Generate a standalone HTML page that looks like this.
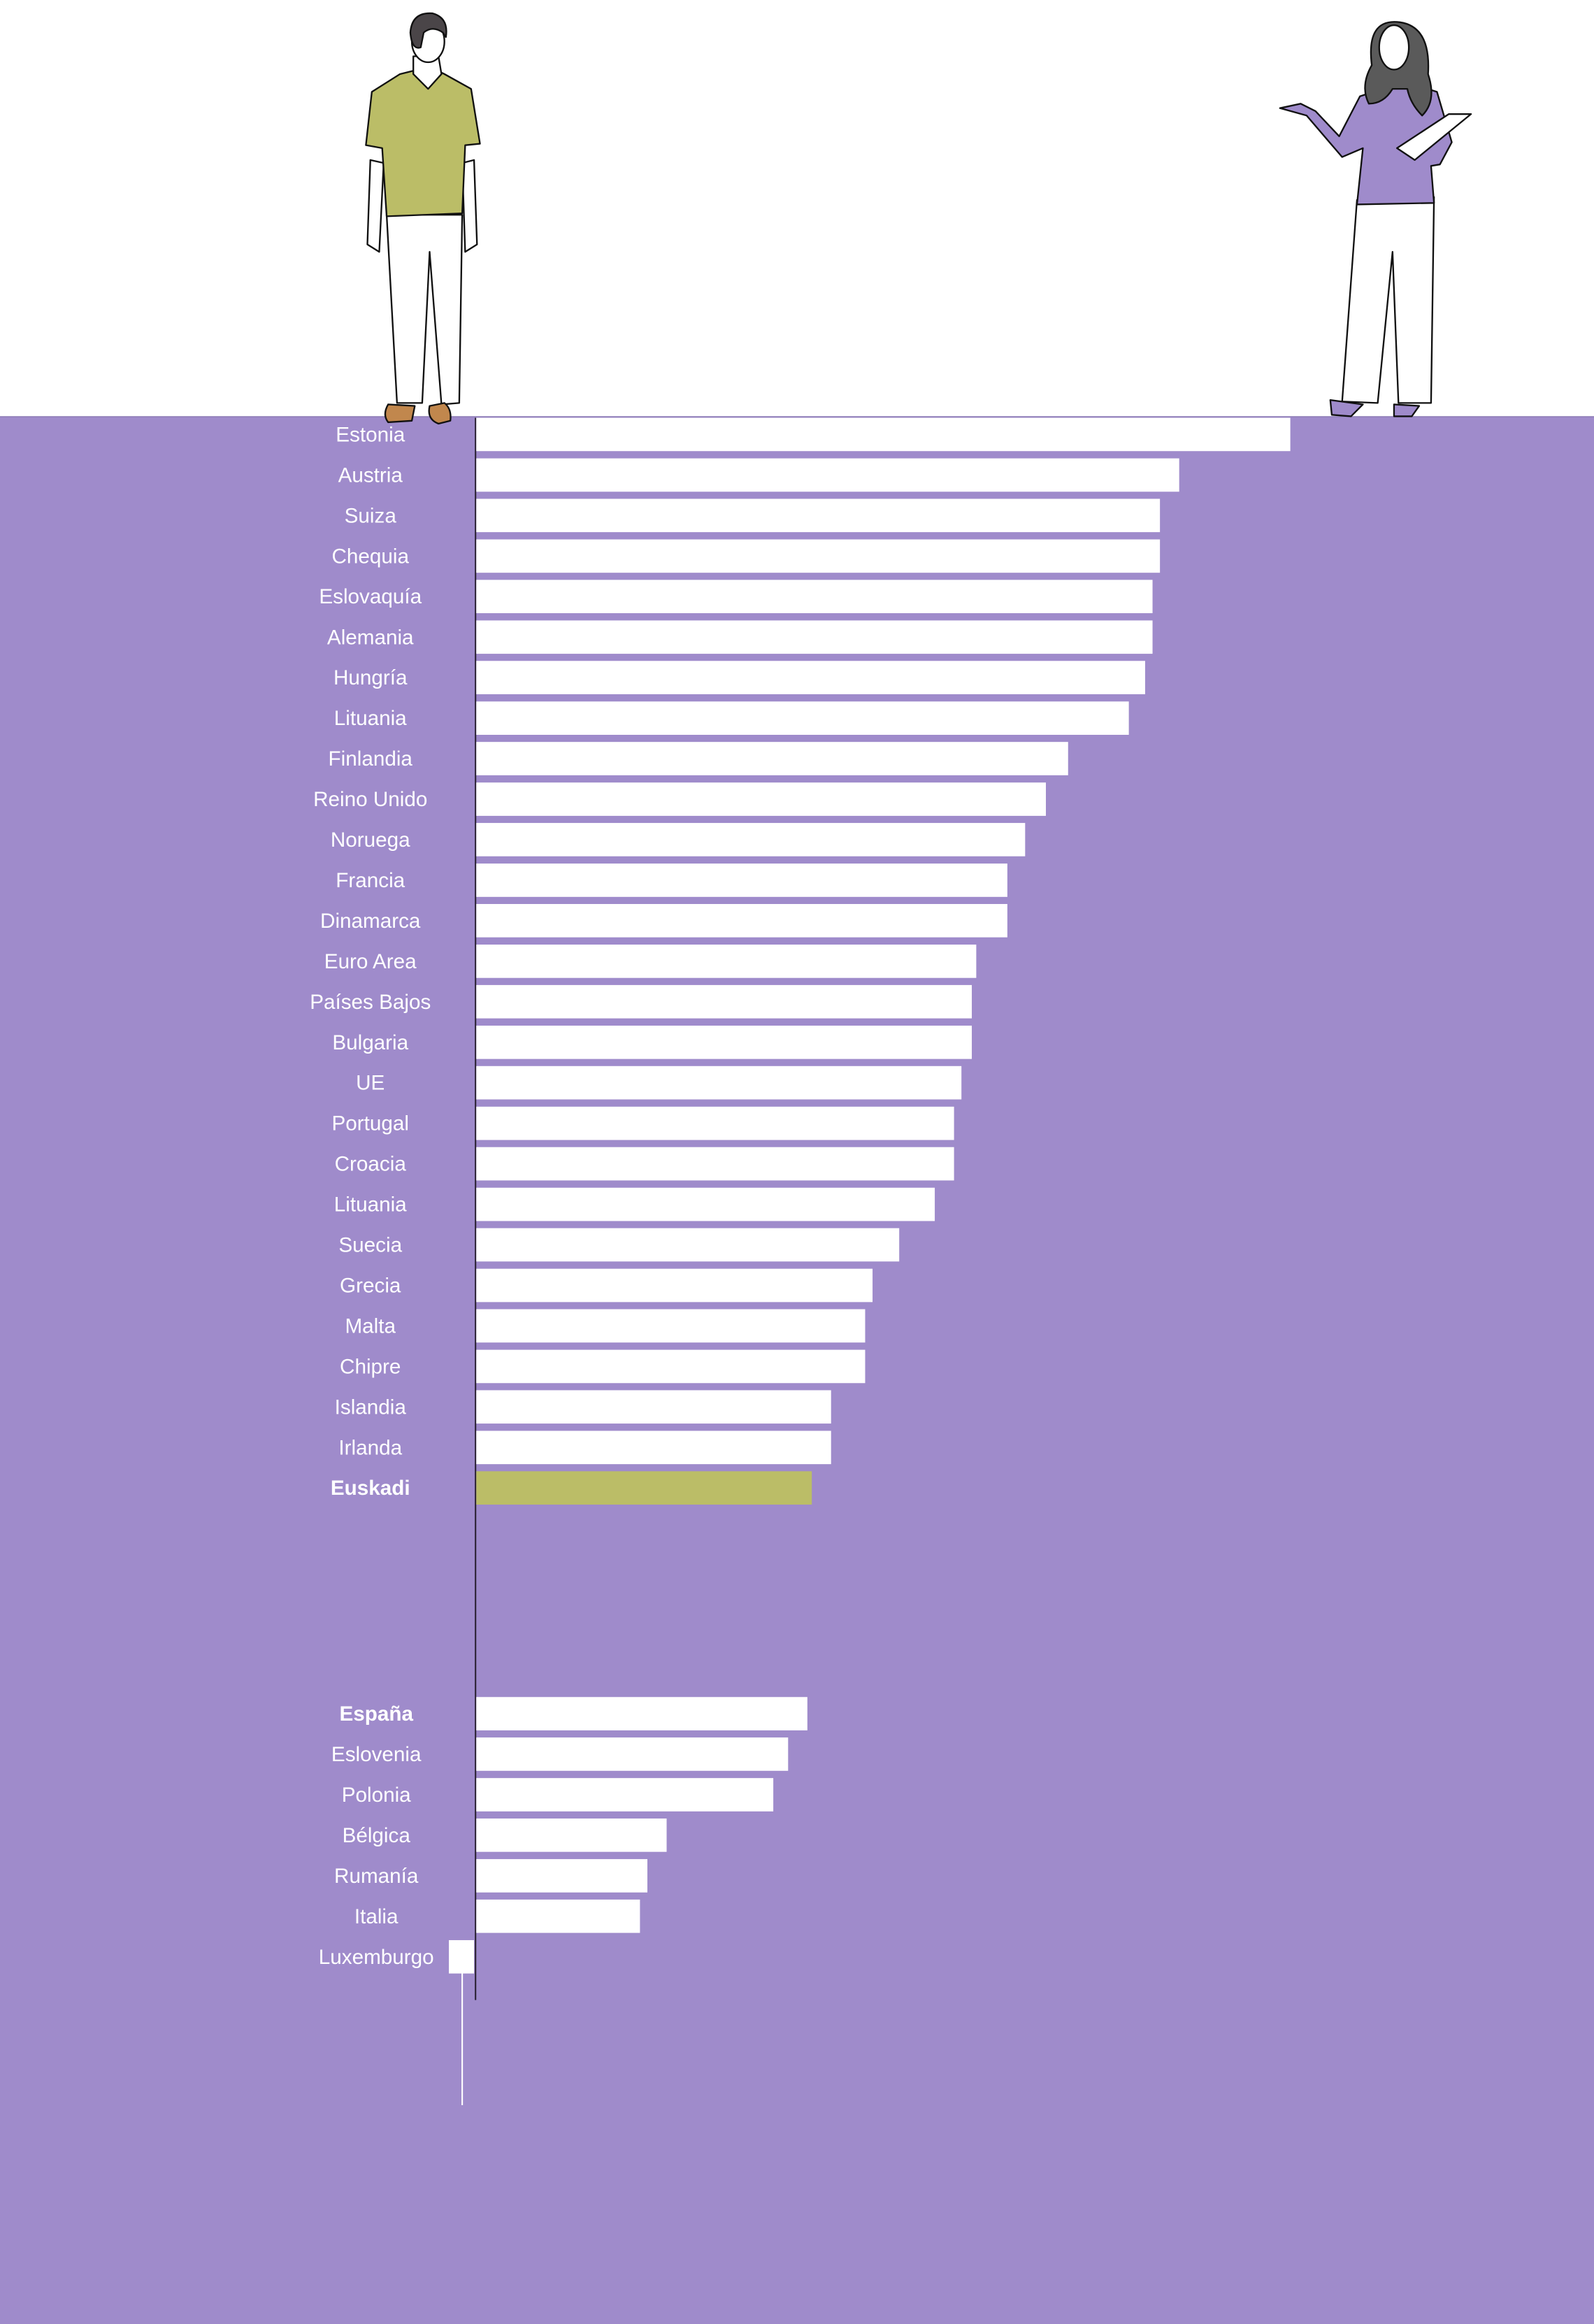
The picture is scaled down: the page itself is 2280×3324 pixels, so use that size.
<!DOCTYPE html>
<html><head><meta charset="utf-8"><style>
html,body{margin:0;padding:0;background:#fff}
svg{display:block}
text{font-family:"Liberation Sans","DejaVu Sans",sans-serif;fill:#fff;font-size:14px;text-anchor:middle}
</style></head><body>
<svg width="2280" height="3324" viewBox="0 0 1076 1568.7" preserveAspectRatio="none" xmlns="http://www.w3.org/2000/svg">
<rect x="0" y="0" width="1076" height="1568.7" fill="#fff"/>
<rect x="0" y="281" width="1076" height="1288" fill="#9f8bcb"/>
<line x1="0" y1="281.3" x2="1076" y2="281.3" stroke="#8f7fb8" stroke-width="0.8"/>

<!-- man -->
<g stroke="#111" stroke-width="1.1" stroke-linejoin="round">
<path d="M261 145 L312 145 L310 272 L298 273 L290 170 L285 272 L268 272 Z" fill="#fff"/>
<path d="M250 108 L248 165 L256 170 L259 110 Z" fill="#fff"/>
<path d="M320 108 L322 165 L314 170 L312 110 Z" fill="#fff"/>
<path d="M270 50 L290 45 L300 50 L318 60 L324 97 L314 98 L312 144 L261 146 L258 100 L247 98 L251 62 Z" fill="#bbbd67"/>
<path d="M279 38 L279 50 L289 60 L298 50 L296 38 Z" fill="#fff"/>
<ellipse cx="289" cy="28" rx="11" ry="14" fill="#fff"/>
<path d="M277 22 Q278 8 292 9 Q303 12 301 25 L299 22 Q292 17 286 22 L284 32 Q278 34 277 22 Z" fill="#4a4548"/>
<path d="M262 273 Q258 280 262 285 L278 284 L280 274 Z" fill="#c1874d"/>
<path d="M290 274 Q288 283 296 286 L304 284 Q305 276 300 272 Z" fill="#c1874d"/>
</g>

<!-- woman -->
<g stroke="#111" stroke-width="1.1" stroke-linejoin="round">
<path d="M916 135 L968 133 L966 272 L944 272 L940 170 L930 272 L906 271 Z" fill="#fff"/>
<path d="M918 65 L948 55 L970 62 L980 96 L972 111 L966 112 L968 137 L916 138 L920 100 L906 106 L882 78 L864 73 L878 70 L888 75 L904 92 Z" fill="#9f8bcb"/>
<path d="M943 100 L978 77 L993 77 L955 108 Z" fill="#fff"/>
<path d="M926 44 Q922 12 945 15 Q966 18 964 50 Q970 68 960 78 Q952 70 950 60 L940 60 Q934 70 924 70 Q918 58 926 44 Z" fill="#5a5a5a"/>
<ellipse cx="941" cy="32" rx="10" ry="15" fill="#fff"/>
<path d="M898 270 L899 280 L912 281 L920 273 Z" fill="#9f8bcb"/>
<path d="M941 273 L941 281 L953 281 L958 274 Z" fill="#9f8bcb"/>
</g>

<line x1="321" y1="282" x2="321" y2="1350" stroke="#2b2233" stroke-width="1"/>
<line x1="312" y1="1331" x2="312" y2="1421" stroke="#fff" stroke-width="1"/>

<g fill="#fff">
<rect x="321.5" y="282" width="549.5" height="22.5"/>
<rect x="321.5" y="309.4" width="474.5" height="22.5"/>
<rect x="321.5" y="336.7" width="461.5" height="22.5"/>
<rect x="321.5" y="364.1" width="461.5" height="22.5"/>
<rect x="321.5" y="391.4" width="456.5" height="22.5"/>
<rect x="321.5" y="418.8" width="456.5" height="22.5"/>
<rect x="321.5" y="446.1" width="451.5" height="22.5"/>
<rect x="321.5" y="473.5" width="440.5" height="22.5"/>
<rect x="321.5" y="500.8" width="399.5" height="22.5"/>
<rect x="321.5" y="528.2" width="384.5" height="22.5"/>
<rect x="321.5" y="555.5" width="370.5" height="22.5"/>
<rect x="321.5" y="582.9" width="358.5" height="22.5"/>
<rect x="321.5" y="610.2" width="358.5" height="22.5"/>
<rect x="321.5" y="637.6" width="337.5" height="22.5"/>
<rect x="321.5" y="664.9" width="334.5" height="22.5"/>
<rect x="321.5" y="692.3" width="334.5" height="22.5"/>
<rect x="321.5" y="719.6" width="327.5" height="22.5"/>
<rect x="321.5" y="747" width="322.5" height="22.5"/>
<rect x="321.5" y="774.3" width="322.5" height="22.5"/>
<rect x="321.5" y="801.7" width="309.5" height="22.5"/>
<rect x="321.5" y="829" width="285.5" height="22.5"/>
<rect x="321.5" y="856.4" width="267.5" height="22.5"/>
<rect x="321.5" y="883.7" width="262.5" height="22.5"/>
<rect x="321.5" y="911.1" width="262.5" height="22.5"/>
<rect x="321.5" y="938.4" width="239.5" height="22.5"/>
<rect x="321.5" y="965.8" width="239.5" height="22.5"/>
<rect x="321.5" y="993.1" width="226.5" height="22.5" fill="#bbbd67"/>
<rect x="321.5" y="1145.5" width="223.5" height="22.5"/>
<rect x="321.5" y="1172.8" width="210.5" height="22.5"/>
<rect x="321.5" y="1200.2" width="200.5" height="22.5"/>
<rect x="321.5" y="1227.5" width="128.5" height="22.5"/>
<rect x="321.5" y="1254.9" width="115.5" height="22.5"/>
<rect x="321.5" y="1282.2" width="110.5" height="22.5"/>
<rect x="303" y="1309.6" width="17" height="22.5"/>
</g>

<g>
<text x="250" y="298">Estonia</text>
<text x="250" y="325.4">Austria</text>
<text x="250" y="352.7">Suiza</text>
<text x="250" y="380.1">Chequia</text>
<text x="250" y="407.4">Eslovaquía</text>
<text x="250" y="434.8">Alemania</text>
<text x="250" y="462.1">Hungría</text>
<text x="250" y="489.5">Lituania</text>
<text x="250" y="516.8">Finlandia</text>
<text x="250" y="544.2">Reino Unido</text>
<text x="250" y="571.5">Noruega</text>
<text x="250" y="598.9">Francia</text>
<text x="250" y="626.2">Dinamarca</text>
<text x="250" y="653.6">Euro Area</text>
<text x="250" y="680.9">Países Bajos</text>
<text x="250" y="708.3">Bulgaria</text>
<text x="250" y="735.6">UE</text>
<text x="250" y="763">Portugal</text>
<text x="250" y="790.3">Croacia</text>
<text x="250" y="817.7">Lituania</text>
<text x="250" y="845">Suecia</text>
<text x="250" y="872.4">Grecia</text>
<text x="250" y="899.7">Malta</text>
<text x="250" y="927.1">Chipre</text>
<text x="250" y="954.4">Islandia</text>
<text x="250" y="981.8">Irlanda</text>
<text x="250" y="1009.1" font-weight="bold">Euskadi</text>
<text x="254" y="1161.5" font-weight="bold">España</text>
<text x="254" y="1188.8">Eslovenia</text>
<text x="254" y="1216.2">Polonia</text>
<text x="254" y="1243.5">Bélgica</text>
<text x="254" y="1270.9">Rumanía</text>
<text x="254" y="1298.2">Italia</text>
<text x="254" y="1325.6">Luxemburgo</text>
</g>
</svg>
</body></html>
